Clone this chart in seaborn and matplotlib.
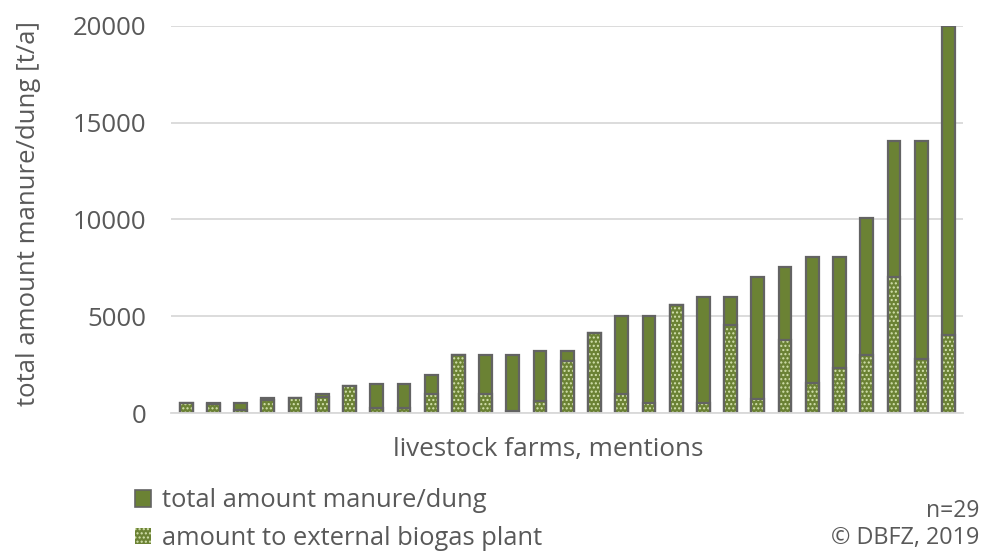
import matplotlib.pyplot as plt
import seaborn as sns
import pandas as pd
from matplotlib.patches import Patch

# values (t/a), farms sorted by total amount
total = [500, 500, 500, 800, 800, 1000, 1400, 1500, 1500, 1950, 3000, 3000, 3000, 3200, 3200,
         4150, 5000, 5000, 5600, 6000, 6000, 7050, 7550, 8050, 8050, 10050, 14050, 14050, 20000]
external = [500, 450, 180, 680, 800, 830, 1400, 280, 280, 1000, 3000, 1000, 80, 600, 2700,
            4150, 1000, 500, 5600, 500, 4550, 700, 3750, 1550, 2350, 3000, 7050, 2800, 4050]
farms = list(range(1, len(total) + 1))

df = pd.DataFrame({"farm": farms, "total": total, "external": external})

dark_green = "#6B8234"
dot_color = "#D5E3B0"
edge = "#636363"
text_gray = "#595959"

sns.set_theme(style="white")
plt.rcParams['font.family'] = ['Open Sans', 'DejaVu Sans']
plt.rcParams['hatch.linewidth'] = 1.0

fig = plt.figure(figsize=(9.84, 5.54), dpi=100)
ax = fig.add_axes([0.174, 0.2545, 0.805, 0.699])

# total bars
sns.barplot(data=df, x="farm", y="total", color=dark_green, saturation=1, width=0.47,
            edgecolor=edge, linewidth=1.6, ax=ax)
n_tot = len(ax.patches)
# external part, dotted
sns.barplot(data=df, x="farm", y="external", color=dark_green, saturation=1, width=0.47,
            linewidth=0, ax=ax)
for p in ax.patches[n_tot:]:
    p.set_hatch("....")
    p.set_edgecolor(dot_color)
    p.set_linewidth(0)
# outline of the external part
sns.barplot(data=df, x="farm", y="external", fill=False, width=0.47,
            edgecolor=edge, linewidth=1.6, ax=ax)

ax.set_ylim(0, 20000)
ax.set_xlim(-0.55, len(total) - 0.45)
ax.set_yticks([0, 5000, 10000, 15000, 20000])
ax.yaxis.grid(True, color="#D9D9D9", linewidth=1.3)
ax.set_axisbelow(True)
for s in ["top", "right", "left"]:
    ax.spines[s].set_visible(False)
ax.spines["bottom"].set_color("#D9D9D9")
ax.spines["bottom"].set_linewidth(1.3)
ax.set_xticks([])
ax.tick_params(axis="y", length=0, pad=18, labelsize=18.5, labelcolor=text_gray)

ax.set_ylabel("total amount manure/dung [t/a]", fontsize=18.5, color=text_gray)
ax.yaxis.set_label_coords(-0.165, 0.514)
ax.set_xlabel("livestock farms, mentions", fontsize=18.8, color=text_gray)
ax.xaxis.set_label_coords(0.476, -0.062)

handles = [Patch(facecolor=dark_green, edgecolor=edge, linewidth=1.2),
           Patch(facecolor=dark_green, edgecolor=dot_color, hatch="....", linewidth=0)]
fig.legend(handles, ["total amount manure/dung", "amount to external biogas plant"],
           loc="upper left", bbox_to_anchor=(0.127, 0.137),
           frameon=False, fontsize=18.4, labelcolor=text_gray, handlelength=0.63,
           handleheight=0.63, handletextpad=0.4, labelspacing=0.5, borderaxespad=0)

fig.text(0.995, 0.078, "n=29", ha="right", va="center", fontsize=16.5, color=text_gray)
fig.text(0.995, 0.029, "© DBFZ, 2019", ha="right", va="center", fontsize=16.8, color=text_gray)

fig.savefig("out.png", dpi=100)
